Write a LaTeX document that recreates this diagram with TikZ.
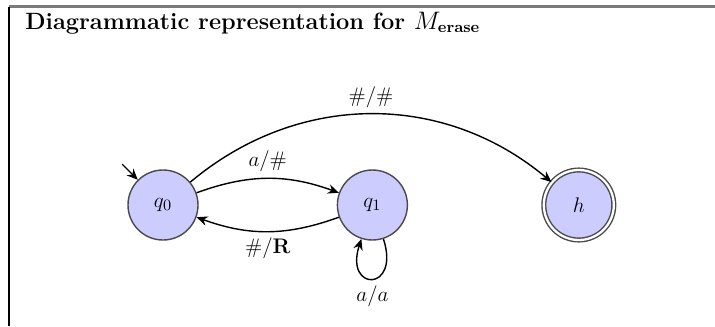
\documentclass[tikz,border=0pt]{standalone}
\usepackage{amsmath,amssymb}
\usepackage{tikz}
\usetikzlibrary{arrows.meta,positioning}
\definecolor{statefill}{HTML}{CCCCFF}
\definecolor{stateline}{HTML}{4A4A4A}
\definecolor{framegray}{HTML}{7A7A7A}

\begin{document}
\begin{tikzpicture}[
  node distance=2.76cm,
  qstate/.style={circle,draw=stateline,thick,fill=statefill,minimum size=1.4cm,inner sep=0pt,font=\fontsize{13}{15}\selectfont},
  accept/.style={qstate,double,double distance=1.3pt},
  arr/.style={-{Stealth[length=2.2mm,width=1.9mm]},thick},
  lbl/.style={font=\fontsize{12.8}{15}\selectfont}
]
\useasboundingbox (0,0) rectangle (14.3,-6.52);
% frame and title
\draw[framegray,line width=1.2pt] (0.18,-0.13) -- (14.3,-0.13);
\draw[black,line width=0.6pt] (0.18,-0.13) -- (0.18,-6.52);
\node[anchor=base west,inner sep=0pt,font=\fontsize{13.4}{16}\selectfont] (title) at (0.50,-0.58)
  {\textbf{Diagrammatic representation for $M_{\mathbf{erase}}$}};
% states
\node[qstate] (q0) at (3.26,-4.10) {$q_0$};
\node[qstate,right=of q0] (q1) {$q_1$};
\node[accept,right=2.7cm of q1] (h) {$h$};
\coordinate (start) at ([shift={(135:0.44)}]q0.135);
% transitions
\draw[arr] (start) -- (q0.135);
\draw[arr,bend left=20] (q0) to node[lbl,above] {$a/\#$} (q1);
\draw[arr,bend left=20] (q1) to node[lbl,below] {$\#/\mathbf{R}$} (q0);
\draw[arr,bend left=40] (q0) to node[lbl,above] {$\#/\#$} (h);
\draw[arr] (q1) to[out=-72,in=-108,looseness=6.5] node[lbl,below] {$a/a$} (q1);
\end{tikzpicture}
\end{document}
